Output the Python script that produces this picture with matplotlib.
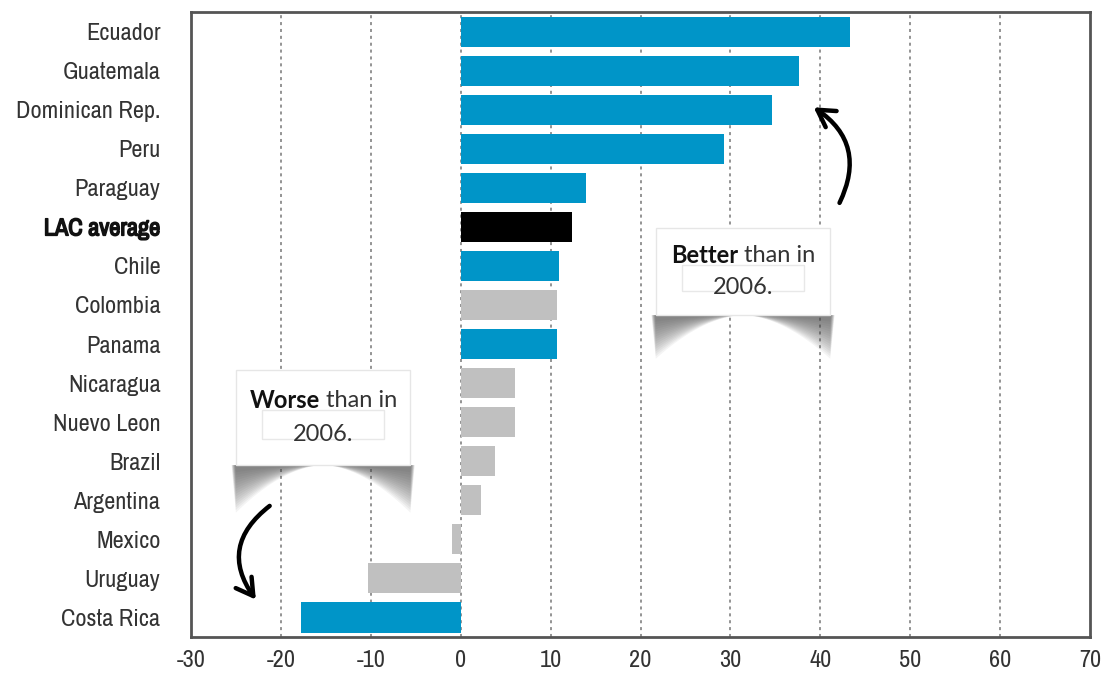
import matplotlib
matplotlib.use("Agg")
import matplotlib.pyplot as plt
import matplotlib.patheffects as pe
import numpy as np
from matplotlib.patches import Rectangle, Polygon, FancyArrowPatch
from matplotlib import font_manager

# look for a condensed face for the tick labels, fall back to Roboto
FONT, STRETCH = "Roboto", "normal"
for f in font_manager.fontManager.ttflist:
    if "Narrow" in f.name or "Condensed" in f.name:
        FONT, STRETCH = f.name, "normal"
        break
    if f.name == "DejaVu Sans" and f.stretch == "condensed":
        FONT, STRETCH = "DejaVu Sans", "condensed"
plt.rcParams["font.family"] = [FONT, "DejaVu Sans"]
plt.rcParams["font.stretch"] = STRETCH
plt.rcParams["axes.unicode_minus"] = False
BOXFONT = ["Lato", "DejaVu Sans"]

countries = ["Ecuador", "Guatemala", "Dominican Rep.", "Peru", "Paraguay",
             "LAC average", "Chile", "Colombia", "Panama", "Nicaragua",
             "Nuevo Leon", "Brazil", "Argentina", "Mexico", "Uruguay", "Costa Rica"]
change = [43.3, 37.6, 34.6, 29.3, 13.9, 12.4, 10.9, 10.7, 10.7, 6.0,
          6.0, 3.8, 2.3, -1.0, -10.3, -17.8]
group = ["b", "b", "b", "b", "b", "avg", "b", "g", "b", "g",
         "g", "g", "g", "g", "g", "b"]
COLORS = {"b": "#0095c8", "g": "#c0c0c0", "avg": "#000000"}
xticks = list(range(-30, 71, 10))

fig = plt.figure(figsize=(11.07, 6.83), dpi=100)
ax = fig.add_axes([0.1725, 0.0673, 0.8122, 0.9151])

y = np.arange(len(countries))
ax.barh(y, change, height=0.77, color=[COLORS[g] for g in group], zorder=2)
for t in xticks[1:-1]:
    ax.axvline(t, color="#777777", linestyle=(0, (2, 2.5)), linewidth=1.1, zorder=1)

ax.set_xlim(-30, 70)
ax.set_ylim(len(countries) - 0.5, -0.5)
ax.set_xticks(xticks)
ax.set_yticks(y, countries)
ax.tick_params(length=0, labelsize=17.5, labelcolor="#333333")
ax.tick_params(axis="x", pad=9)
ax.tick_params(axis="y", pad=22)
for lab in ax.get_yticklabels():
    if lab.get_text() == "LAC average":
        lab.set_fontweight("bold")
        lab.set_color("#111111")
        lab.set_path_effects([pe.withStroke(linewidth=1.1, foreground="#111111")])
for sp in ax.spines.values():
    sp.set_color("#555555")
    sp.set_linewidth(2)


def callout(x0, x1, y0, y1, bold, rest):
    # curled-paper shadow below the box
    h = (y1 - y0)
    n = 16
    for k in np.linspace(1.0, 0.15, n):
        xs = np.linspace(x0, x1, 80)
        u = (xs - x0) / (x1 - x0)
        depth = h * 0.5 * k * (np.abs(2 * u - 1) ** 1.8)
        pad = (x1 - x0) * 0.025 * k
        pts = [(x0 - pad, y1)] + [(xx, y1 + d) for xx, d in zip(xs, depth)] + [(x1 + pad, y1)]
        ax.add_patch(Polygon(pts, closed=True, facecolor="#444444", edgecolor="none",
                             alpha=0.06, zorder=3))
    ax.add_patch(Rectangle((x0, y0), x1 - x0, y1 - y0, facecolor="white",
                           edgecolor="#e6e6e6", linewidth=1, zorder=4))
    cx = (x0 + x1) / 2
    ax.add_patch(Rectangle((cx - (x1 - x0) * 0.35, y0 + h * 0.42), (x1 - x0) * 0.7, h * 0.3,
                           facecolor="none", edgecolor="#e8e8e8", linewidth=1, zorder=4))
    ty = y0 + h * 0.32
    tb = ax.text(cx, ty, bold, ha="right", va="center", fontsize=17, family=BOXFONT,
                 fontweight="bold", color="#111111", zorder=5)
    tr = ax.text(cx, ty, rest, ha="left", va="center", fontsize=17, family=BOXFONT,
                 color="#333333", zorder=5)
    rend = fig.canvas.get_renderer()
    w_bold = tb.get_window_extent(rend).width
    w_rest = tr.get_window_extent(rend).width
    px = ax.transData.transform((cx, ty))[0] + (w_bold - w_rest) / 2
    xb = ax.transData.inverted().transform((px, 0))[0]
    tb.set_x(xb)
    tr.set_x(xb)
    ax.text(cx, y0 + h * 0.68, "2006.", ha="center", va="center", fontsize=17,
            family=BOXFONT, color="#333333", zorder=5)


callout(21.7, 41.1, 5.03, 7.26, "Better", " than in")
callout(-25.0, -5.6, 8.67, 11.1, "Worse", " than in")

arrow_kw = dict(arrowstyle="->,head_length=0.6,head_width=0.35", mutation_scale=20,
                color="black", linewidth=3.2, zorder=6, capstyle="round")
ax.add_patch(FancyArrowPatch((42.0, 4.45), (39.0, 1.9), connectionstyle="arc3,rad=0.45",
                             **arrow_kw))
ax.add_patch(FancyArrowPatch((-21.0, 12.1), (-22.6, 14.6), connectionstyle="arc3,rad=0.5",
                             **arrow_kw))

fig.savefig("out.png", dpi=100)
